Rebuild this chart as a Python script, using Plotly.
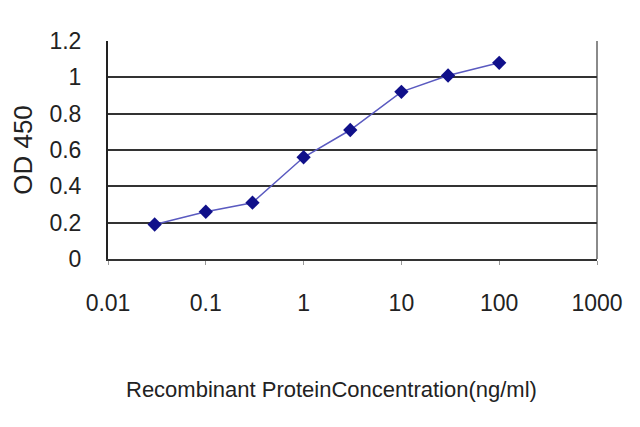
import plotly.graph_objects as go

conc = [0.03, 0.1, 0.3, 1, 3, 10, 30, 100]
od450 = [0.19, 0.26, 0.31, 0.56, 0.71, 0.92, 1.01, 1.08]
x_ticks = [0.01, 0.1, 1, 10, 100, 1000]
x_tick_labels = ["0.01", "0.1", "1", "10", "100", "1000"]
y_ticks = [0, 0.2, 0.4, 0.6, 0.8, 1, 1.2]
y_tick_labels = ["0", "0.2", "0.4", "0.6", "0.8", "1", "1.2"]
x_title = "Recombinant ProteinConcentration(ng/ml)"

FONT = "Liberation Sans, Arial, sans-serif"

fig = go.Figure()
fig.add_trace(go.Scatter(
    x=conc, y=od450, mode="lines+markers",
    line=dict(color="#5a5ac0", width=1.5),
    marker=dict(symbol="diamond", size=11, color="#10108a",
                line=dict(color="#10108a", width=0)),
    showlegend=False,
))

fig.update_layout(
    width=640, height=427,
    margin=dict(l=100, r=51, t=33, b=176),
    paper_bgcolor="white", plot_bgcolor="white",
    font=dict(family=FONT, color="#222222", size=23),
    xaxis=dict(
        type="log", range=[-2, 3], automargin=False,
        tickvals=x_ticks, ticktext=x_tick_labels,
        showgrid=False, zeroline=False,
        showline=True, linecolor="#333333", linewidth=2, mirror=False,
        ticks="outside", ticklen=4, tickcolor="#999999", tickwidth=1,
        ticklabelstandoff=18,
        tickfont=dict(size=23, color="#222222"),
    ),
    yaxis=dict(
        range=[0, 1.2], automargin=False,
        tickvals=y_ticks, ticktext=y_tick_labels,
        showgrid=True, gridcolor="#333333", gridwidth=2,
        zeroline=False,
        showline=True, linecolor="#222222", linewidth=2,
        ticks="", ticklabelstandoff=20,
        tickfont=dict(size=23, color="#222222"),
        title=dict(text="OD 450", font=dict(size=26, color="#222222"), standoff=13),
    ),
)

fig.add_annotation(text=x_title, xref="paper", yref="paper",
                   x=0.458, y=-0.60, xanchor="center", yanchor="middle",
                   showarrow=False, font=dict(size=22, color="#222222"))

fig.add_shape(type="line", xref="paper", yref="paper", x0=1, x1=1, y0=0, y1=1,
              line=dict(color="#8a8a8a", width=2), layer="below")

fig.write_html("out.html")
